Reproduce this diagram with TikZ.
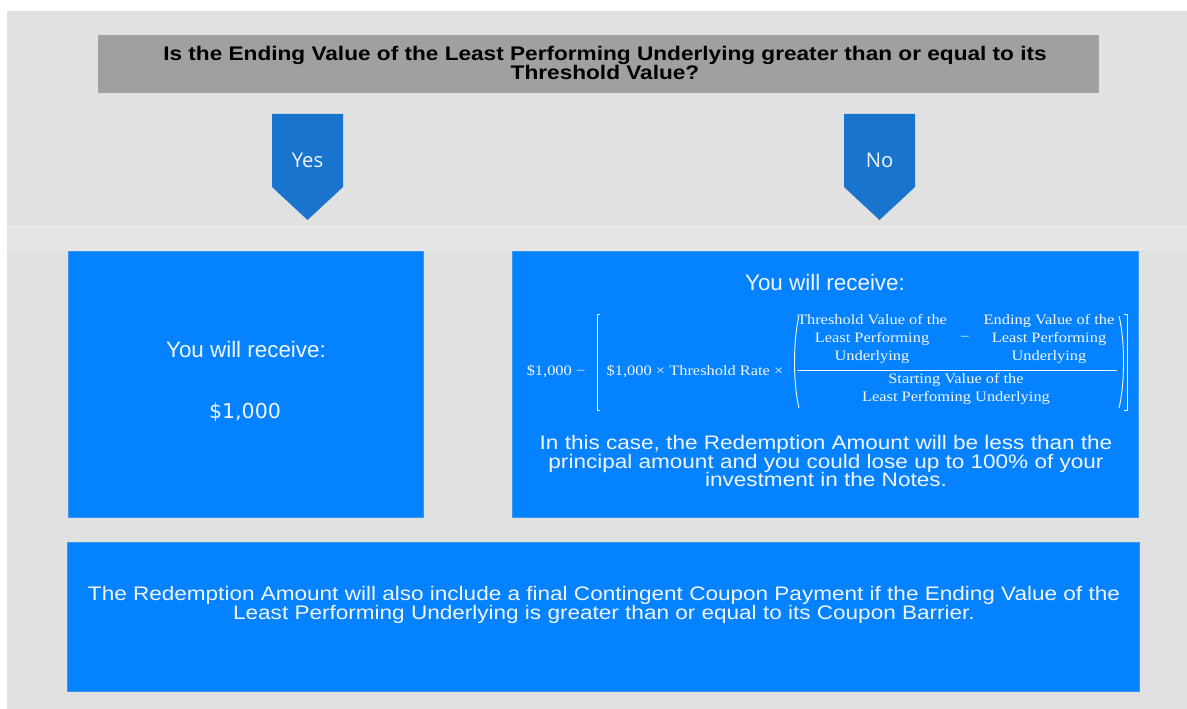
\documentclass[tikz,border=0pt]{standalone}
\usepackage{fontspec}
\setmainfont{Liberation Sans}
\newfontfamily\widesans[FakeStretch=1.15]{Liberation Sans}
\newfontfamily\tagfont{Open Sans}
\newfontfamily\sumfont{DejaVu Sans}
\newfontfamily\fmlfont[FakeStretch=1.14]{Liberation Serif}
\usetikzlibrary{positioning}

\definecolor{pagegray}{HTML}{E1E1E1}
\definecolor{bandgray}{HTML}{E4E4E4}
\definecolor{bandline}{HTML}{EBEBEB}
\definecolor{qgray}{HTML}{A0A0A0}
\definecolor{tagblue}{HTML}{1874CD}
\definecolor{ansblue}{HTML}{0582FF}
\definecolor{ansedge}{HTML}{3C98EE}
\definecolor{anstext}{HTML}{F2F6FF}

\begin{document}
\begin{tikzpicture}[
  x=0.75pt, y=-0.75pt,
  qtxt/.style={align=center, inner sep=0pt, font=\widesans\bfseries\fontsize{14.75}{14.25}\selectfont},
  tagtxt/.style={text=anstext, inner sep=0pt, font=\tagfont\fontsize{15.2}{18}\selectfont},
  ansbox/.style={fill=ansblue, draw=ansedge, line width=0.5pt},
  head/.style={text=anstext, inner sep=0pt, font=\fontsize{16.8}{20}\selectfont},
  para/.style={text=anstext, align=center, inner sep=0pt, font=\widesans\fontsize{14.7}{13.9}\selectfont},
  fml/.style={text=anstext, align=center, inner sep=0pt, font=\fmlfont\fontsize{10.8}{13.5}\selectfont},
  fmlline/.style={anstext, line width=0.7pt},
]
\useasboundingbox (0,0) rectangle (1187,709);

% ---- page ----
\fill[white] (0,0) rectangle (1187,709);
\fill[pagegray] (7,11) rectangle (1187,709);
\fill[bandgray] (7,227) rectangle (1187,250);
\draw[bandline, line width=1pt] (7,227) -- (1187,227);
\draw[bandline, line width=1pt] (7,249.5) -- (1187,249.5);

% ---- question ----
\fill[qgray] (98,35) rectangle (1099,93);
\node[qtxt] (question) at (605,62.5)
  {Is the Ending Value of the Least Performing Underlying greater than or equal to its\\Threshold Value?};

% ---- yes / no tags ----
\fill[tagblue] (272,114) -- (343,114) -- (343,187) -- (307.5,220) -- (272,187) -- cycle;
\fill[tagblue] (844,114) -- (915,114) -- (915,187) -- (879.5,220) -- (844,187) -- cycle;
\node[tagtxt] (yes) at (307.5,160) {Yes};
\node[tagtxt] (no) at (879.5,160) {No};

% ---- answer boxes ----
\filldraw[ansbox] (68,251) rectangle (423,517);
\filldraw[ansbox] (512,251) rectangle (1138,517);
\filldraw[ansbox] (67,542) rectangle (1139,691);

% yes box
\node[head] (yeshead) at (246,349) {You will receive:};
\node[text=anstext, inner sep=0pt, font=\sumfont\fontsize{15.4}{18}\selectfont] (yessum) at (245,412) {\$1,000};

% no box
\node[head] (nohead) at (825,282) {You will receive:};

% formula
\node[fml] (fone) at (556,371) {\$1,000 −};
\node[fml] (frate) at (695,371) {\$1,000 × Threshold Rate ×};
\node[fml] (numa) at (872,339) {Threshold Value of the\\Least Performing\\Underlying};
\node[fml] (numm) at (965,339) {−};
\node[fml] (numb) at (1049,339) {Ending Value of the\\Least Performing\\Underlying};
\node[fml] (den) at (956,389) {Starting Value of the\\Least Perfoming Underlying};
\draw[fmlline] (797,370) -- (1117,370);
\draw[fmlline] (600,314) -- (597,314) -- (597,410) -- (600,410);
\draw[fmlline] (1124,314) -- (1127,314) -- (1127,410) -- (1124,410);
\draw[fmlline] (799,316) .. controls (793,340) and (793,384) .. (799,408);
\draw[fmlline] (1119,316) .. controls (1125,340) and (1125,384) .. (1119,408);

\node[para] (nopara) at (826,461)
  {In this case, the Redemption Amount will be less than the\\principal amount and you could lose up to 100\% of your\\investment in the Notes.};

% ---- coupon note ----
\node[para, font=\widesans\fontsize{14.7}{14.25}\selectfont] (coupon) at (604,604.5)
  {The Redemption Amount will also include a final Contingent Coupon Payment if the Ending Value of the\\Least Performing Underlying is greater than or equal to its Coupon Barrier.};

\end{tikzpicture}
\end{document}
